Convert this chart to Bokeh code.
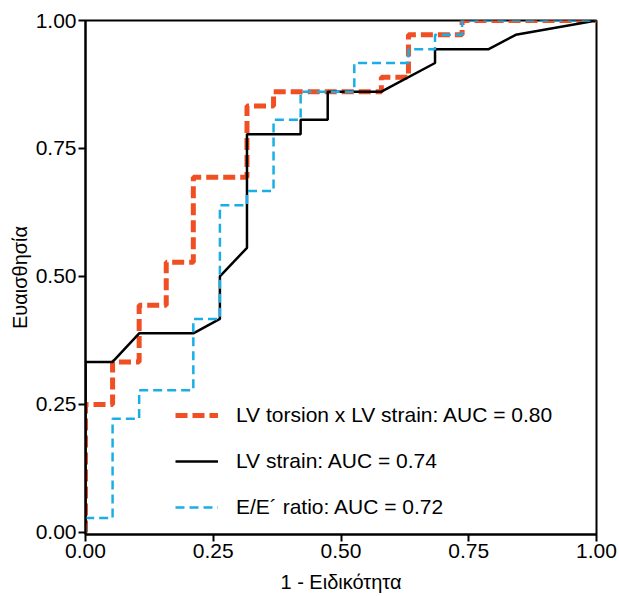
from bokeh.plotting import figure
from bokeh.models import FixedTicker, Legend, LegendItem, Range1d
from bokeh.embed import file_html
from bokeh.resources import INLINE

# ---- data ----
tick_values = [0.0, 0.25, 0.5, 0.75, 1.0]
tick_labels = ["0.00", "0.25", "0.50", "0.75", "1.00"]

torsion_x = [0, 0, 0.053, 0.053, 0.105, 0.105, 0.158, 0.158, 0.211, 0.211, 0.316, 0.316,
             0.368, 0.368, 0.579, 0.579, 0.632, 0.632, 0.737, 0.737, 1.0]
torsion_y = [0, 0.25, 0.25, 0.333, 0.333, 0.444, 0.444, 0.528, 0.528, 0.694, 0.694, 0.833,
             0.833, 0.861, 0.861, 0.889, 0.889, 0.972, 0.972, 1.0, 1.0]

strain_x = [0, 0, 0.053, 0.105, 0.211, 0.263, 0.263, 0.316, 0.316, 0.421, 0.421, 0.474,
            0.474, 0.579, 0.684, 0.684, 0.789, 0.842, 1.0]
strain_y = [0, 0.333, 0.333, 0.389, 0.389, 0.417, 0.5, 0.556, 0.778, 0.778, 0.806, 0.806,
            0.861, 0.861, 0.917, 0.944, 0.944, 0.972, 1.0]

ee_x = [0, 0, 0.053, 0.053, 0.105, 0.105, 0.211, 0.211, 0.263, 0.263, 0.316, 0.316, 0.368,
        0.368, 0.421, 0.421, 0.526, 0.526, 0.632, 0.632, 0.684, 0.684, 0.737, 0.737, 1.0]
ee_y = [0, 0.028, 0.028, 0.222, 0.222, 0.278, 0.278, 0.417, 0.417, 0.639, 0.639, 0.667, 0.667,
        0.806, 0.806, 0.861, 0.861, 0.917, 0.917, 0.944, 0.944, 0.972, 0.972, 1.0, 1.0]

series_names = ["LV torsion x LV strain: AUC = 0.80",
                "LV strain: AUC = 0.74",
                "E/E\u00b4 ratio: AUC = 0.72"]
x_title = "1 - Ειδικότητα"
y_title = "Ευαισθησία"

FONT = "Liberation Sans"
RED = "#F04E23"
BLUE = "#1AAEE6"

p = figure(width=619, height=596,
           min_border_left=85, min_border_right=23, min_border_top=20, min_border_bottom=62,
           x_range=Range1d(0, 1), y_range=Range1d(-0.004, 1.0),
           output_backend="svg", toolbar_location=None)

p.xgrid.visible = False
p.ygrid.visible = False
p.outline_line_color = "black"
p.outline_line_width = 2
p.outline_line_alpha = 1.0
p.background_fill_color = "white"
p.border_fill_color = "white"

for ax in (p.xaxis[0], p.yaxis[0]):
    ax.ticker = FixedTicker(ticks=tick_values)
    ax.major_label_overrides = dict(zip(tick_values, tick_labels))
    ax.axis_line_color = "black"
    ax.axis_line_width = 2
    ax.major_tick_line_color = "black"
    ax.major_tick_line_width = 2
    ax.major_tick_in = 0
    ax.major_tick_out = 7
    ax.minor_tick_line_color = None
    ax.major_label_text_font = FONT
    ax.major_label_text_font_size = "21px"
    ax.major_label_text_color = "black"
    ax.major_label_standoff = 2
    ax.axis_label_text_font = FONT
    ax.axis_label_text_font_size = "20px"
    ax.axis_label_text_font_style = "normal"
    ax.axis_label_text_color = "black"

p.yaxis.axis_label = y_title
p.yaxis.axis_label_standoff = 2
p.xaxis.axis_label = x_title
p.xaxis.axis_label_standoff = 10

r_red = p.line(torsion_x, torsion_y, line_color=RED, line_width=5, line_dash="12 5")
r_black = p.line(strain_x, strain_y, line_color="black", line_width=2.5)
r_blue = p.line(ee_x, ee_y, line_color=BLUE, line_width=2.5, line_dash="9 5")

legend = Legend(items=[LegendItem(label=series_names[0], renderers=[r_red]),
                       LegendItem(label=series_names[1], renderers=[r_black]),
                       LegendItem(label=series_names[2], renderers=[r_blue])],
                location=(90, 14), padding=0, spacing=20, margin=0,
                glyph_width=43, glyph_height=26, label_height=26, label_standoff=18,
                label_text_font=FONT, label_text_font_size="21px", label_text_color="black",
                border_line_color=None, background_fill_alpha=0)
p.add_layout(legend)

open("out.html", "w").write(file_html(p, INLINE))
